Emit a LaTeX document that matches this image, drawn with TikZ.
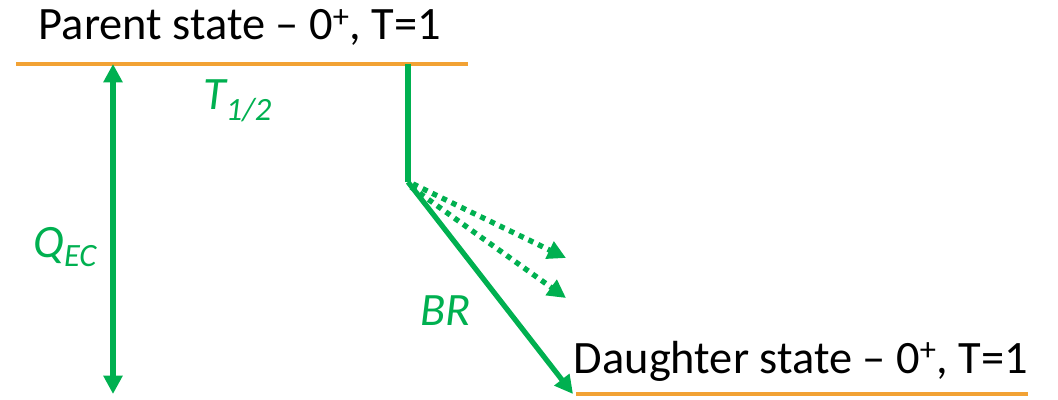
\documentclass[tikz,border=0pt]{standalone}
\usepackage{fontspec}
\setmainfont{Carlito}
\usetikzlibrary{arrows.meta,positioning,calc}
\definecolor{lvlorange}{RGB}{242,162,52}
\definecolor{decgreen}{RGB}{0,176,80}

\begin{document}
\begin{tikzpicture}[
    x=0.025cm, y=-0.025cm,
    level/.style={draw=lvlorange, line width=2.9pt},
    lbl/.style={font=\fontsize{33}{40}\selectfont, anchor=base, inner sep=0pt},
    glbl/.style={font=\fontsize{33}{40}\selectfont\itshape, text=decgreen, anchor=base west, inner sep=0pt},
    arrow/.style={-{Triangle[length=13pt, width=13pt]}, decgreen, line width=3.7pt},
    dotarrow/.style={arrow, line width=3.8pt, dash pattern=on 3.8pt off 3.8pt}
  ]
    \useasboundingbox (0,0) rectangle (1058,400);

    % levels
    \coordinate (pL) at (16,64);
    \coordinate (pR) at (468,64);
    \coordinate (dL) at (576,394);
    \coordinate (dR) at (1028,394);
    \draw[level] (pL) -- (pR);
    \draw[level] (dL) -- (dR);

    \node[lbl] (parent) at (240,40) {Parent state -- 0\textsuperscript{+}, T=1};
    \node[lbl] (daughter) at (801,373) {Daughter state -- 0\textsuperscript{+}, T=1};

    % Q value
    \coordinate (qTop) at (113,64);
    \coordinate (qBot) at (113,394);
    \draw[arrow, {Triangle[length=13pt, width=13pt]}-{Triangle[length=13pt, width=13pt]}] (qTop) -- (qBot);
    \node[glbl] (qec) at (33,257) {Q\textsubscript{EC}};

    % decay branches
    \coordinate (top) at (408,64);
    \coordinate (kink) at (408,182);
    \coordinate (bEnd) at (573,394);
    \coordinate (d1) at (566,258);
    \coordinate (d2) at (566,298);
    \draw[decgreen, line width=3.7pt] (top) -- (kink);
    \draw[arrow] (kink) -- (bEnd);
    \draw[dotarrow] ($(kink)+(5,2)$) -- (d1);
    \draw[dotarrow] ($(kink)+(3,5)$) -- (d2);

    \node[glbl] (thalf) at (203,110) {T\textsubscript{1/2}};
    \node[glbl] (br) at (420,325) {BR};
  \end{tikzpicture}
\end{document}
